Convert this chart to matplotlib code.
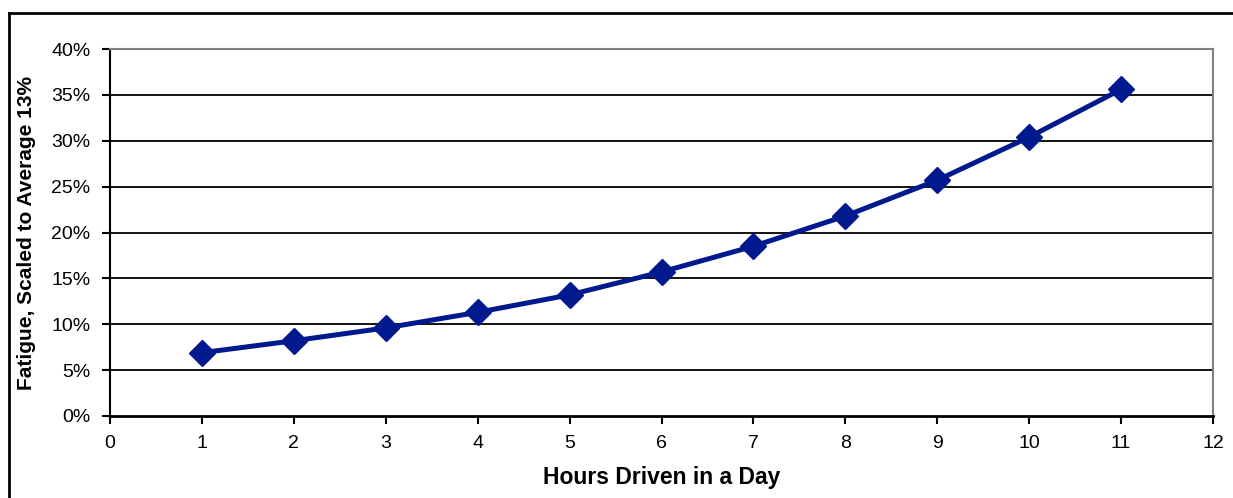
import matplotlib
matplotlib.use('Agg')
import matplotlib.pyplot as plt
from matplotlib.lines import Line2D
from matplotlib.ticker import FuncFormatter

# 数据：每天驾驶小时数 与 疲劳度（%）
hours = [1, 2, 3, 4, 5, 6, 7, 8, 9, 10, 11]
fatigue = [6.9, 8.2, 9.6, 11.3, 13.2, 15.7, 18.5, 21.8, 25.7, 30.4, 35.6]

x_ticks = list(range(0, 13))
y_ticks = list(range(0, 45, 5))

plt.rcParams['font.family'] = ['Liberation Sans', 'DejaVu Sans']

fig = plt.figure(figsize=(12.33, 4.98), dpi=100)
ax = fig.add_axes([110 / 1233, 1 - 416 / 498, (1213 - 110) / 1233, (416 - 49) / 498])

# 网格线
for y in y_ticks[1:-1]:
    ax.axhline(y, color='black', linewidth=1.3, zorder=1)

ax.plot(hours, fatigue, color='#001a8e', linewidth=3.6, marker='D',
        markersize=13, zorder=3, clip_on=False)

ax.set_xlim(0, 12)
ax.set_ylim(0, 40)
ax.set_xticks(x_ticks)
ax.set_yticks(y_ticks)
ax.yaxis.set_major_formatter(FuncFormatter(lambda v, p: f'{int(v)}%'))

ax.spines['left'].set_color('black')
ax.spines['bottom'].set_color('black')
ax.spines['left'].set_linewidth(1.5)
ax.spines['bottom'].set_linewidth(2.0)
ax.spines['top'].set_color('#808080')
ax.spines['right'].set_color('#808080')
ax.spines['top'].set_linewidth(1.5)
ax.spines['right'].set_linewidth(1.5)

ax.tick_params(axis='both', direction='out', length=6, width=1.5,
               colors='black', labelsize=14)
ax.tick_params(axis='x', pad=8)
ax.tick_params(axis='y', pad=8)

ax.set_xlabel('Hours Driven in a Day', fontsize=16.5, fontweight='bold', labelpad=10)
ax.set_ylabel('Fatigue, Scaled to Average 13%', fontsize=15, fontweight='bold', labelpad=11)

# 外边框（左、上）
fig.add_artist(Line2D([9 / 1233, 9 / 1233], [0, 1 - 13 / 498], transform=fig.transFigure,
                      color='black', linewidth=2))
fig.add_artist(Line2D([9 / 1233, 1], [1 - 13 / 498, 1 - 13 / 498], transform=fig.transFigure,
                      color='black', linewidth=2))

fig.savefig('out.png', dpi=100)
